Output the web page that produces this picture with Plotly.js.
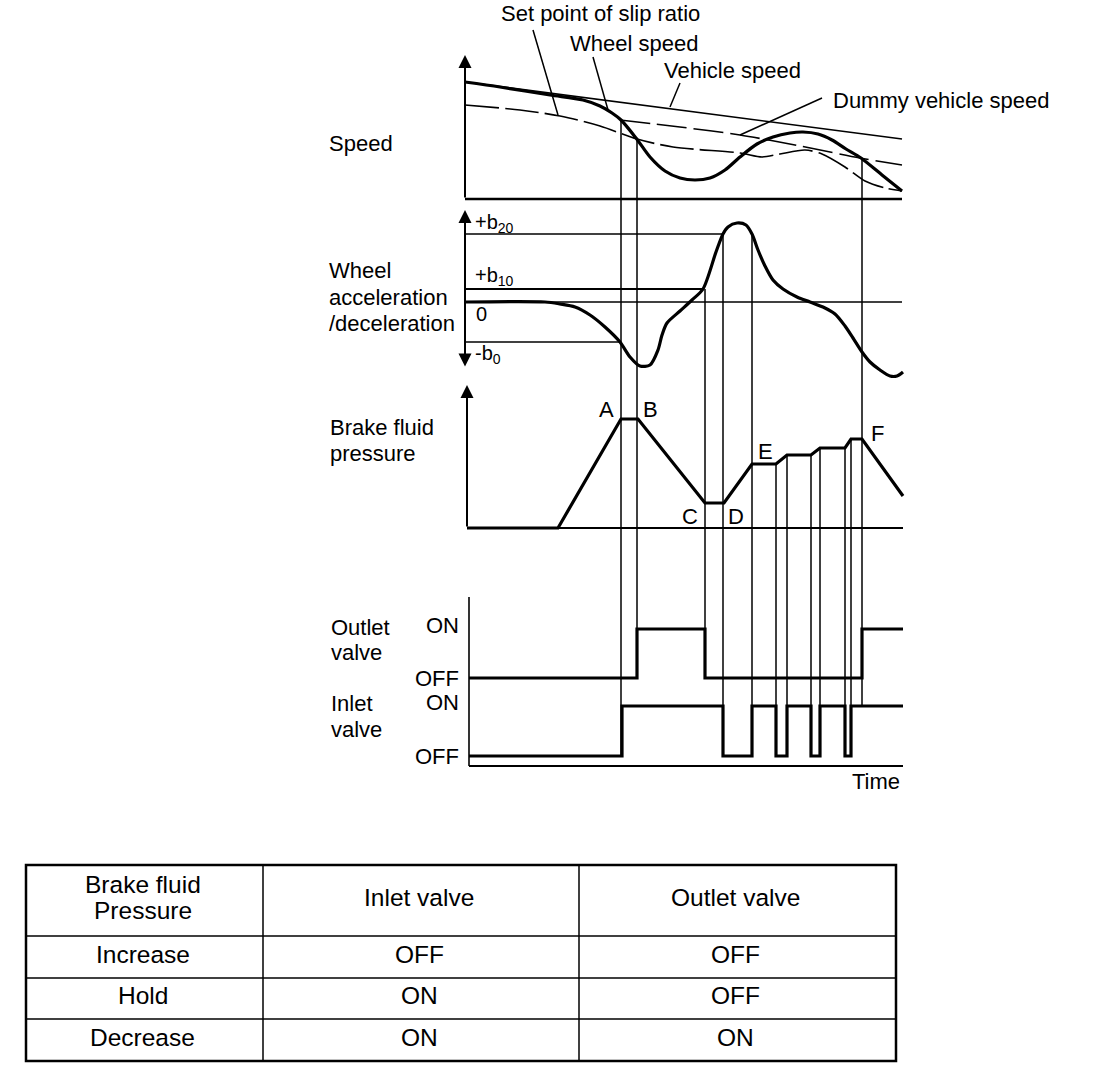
<!DOCTYPE html>
<html><head><meta charset="utf-8">
<script src="https://cdn.plot.ly/plotly-3.0.1.min.js"></script>
<style>html,body{margin:0;padding:0;background:#fff}#chart{width:1120px;height:1088px}</style>
</head><body><div id="chart"></div>
<script>
// ---------- DATA (time in arbitrary units, values in arbitrary panel units) ----------
// Speed panel
const vehicleT = [0, 215, 437];
const vehicleV = [117, 89, 60];
const wheelT = [0, 35, 85, 118, 135, 147, 156, 171, 185, 200, 215, 230, 245, 260, 275, 292, 308, 325, 338, 353, 367, 381, 396, 417, 437];
const wheelV = [117, 112, 104, 99, 93, 86, 79, 61, 42, 28, 21, 19, 21, 29, 42, 55, 62, 66, 67, 65, 59, 50, 41, 24, 8];
const setPointT = [0, 55, 95, 135, 172, 208, 275, 297, 315, 340, 357, 380, 400, 420, 437];
const setPointV = [94, 89, 83, 73, 60, 52, 46, 42, 45, 49, 45, 32, 18, 11, 8];
const dummyT = [155, 215, 275, 335, 395, 437];
const dummyV = [79, 72, 64, 53, 41, 34];
// Wheel acceleration / deceleration panel
const accelT = [0, 80, 95, 110, 125, 140, 155, 165, 175, 185, 193, 197, 202, 215, 227, 238, 251, 258, 263, 272, 281, 287, 293, 300, 308, 318, 332, 345, 358, 370, 380, 388, 397, 405, 415, 425, 432, 438];
const accelV = [0, 0, -2, -5, -13, -25, -40, -55, -64, -63, -48, -33, -21, -9, 2, 13, 50, 68, 75, 79, 77, 68, 52, 36, 22, 13, 5, 0, -5, -12, -24, -36, -50, -60, -68, -74, -74, -70];
const thresholdNames = ['+b<sub>20</sub>', '+b<sub>10</sub>', '-b<sub>0</sub>'];
const thresholdV = [68, 13, -40];
const thresholdEndT = [258, 238, 155];
// Brake fluid pressure panel
const pressureT = [2, 93, 156, 173, 240, 259, 287, 311, 322, 346, 355, 380, 386, 397, 438];
const pressureV = [0, 0, 109, 109, 25, 25, 64, 64, 73, 73, 80, 80, 89, 89, 32];
const pointLabels = ['A', 'B', 'C', 'D', 'E', 'F'];
// Valves (0 = OFF, 1 = ON)
const outletT = [4, 172, 240, 397, 438];
const outletV = [0, 1, 0, 1, 1];
const inletT = [4, 157, 258, 287, 311, 322, 346, 355, 380, 386, 438];
const inletV = [0, 1, 0, 1, 0, 1, 0, 1, 0, 1, 1];
// Event connector lines: time, top (axis, value), bottom (axis, value)
const connT      = [156, 172, 240, 258, 287, 311, 322, 346, 355, 380, 386, 397];
const connTopAx  = ['y', 'y', 'y2', 'y2', 'y2', 'y3', 'y3', 'y3', 'y3', 'y3', 'y3', 'y'];
const connTopV   = [79, 61, 13, 68, 68, 64, 73, 73, 80, 80, 89, 41];
const connBotAx  = ['y5', 'y4', 'y4', 'y5', 'y5', 'y5', 'y5', 'y5', 'y5', 'y5', 'y5', 'y5'];
const connBotV   = [0, 0, 0, 0, 0, 0, 0, 0, 0, 0, 0, 1];
// Table
const tableHeader = ['Brake fluid<br>Pressure', 'Inlet valve', 'Outlet valve'];
const tableRows = ['Increase', 'Hold', 'Decrease'];
const tableInlet = ['OFF', 'ON', 'ON'];
const tableOutlet = ['OFF', 'OFF', 'ON'];

// ---------- LAYOUT ----------
const W = 1120, H = 1088;
const FONT = 'Liberation Sans, Arial, Helvetica, sans-serif';
const ranges = {
  y:  [-889, 199],
  y2: [-786, 302],
  y3: [-560, 528],
  y4: [-8.367, 13.837],
  y5: [-6.64, 15.12]
};
const toPaper = (ax, v) => (v - ranges[ax][0]) / (ranges[ax][1] - ranges[ax][0]);
const px = x => x / W, py = y => 1 - y / H;

const traces = [];
const line = (x, y, ax, width, dash) => traces.push({
  type: 'scatter', mode: 'lines', x: x, y: y, yaxis: ax, xaxis: 'x',
  line: {color: '#000', width: width, dash: dash || 'solid'}, hoverinfo: 'skip'
});
const spline = (x, y, ax, width, dash) => traces.push({
  type: 'scatter', mode: 'lines', x: x, y: y, yaxis: ax, xaxis: 'x',
  line: {color: '#000', width: width, dash: dash || 'solid', shape: 'spline', smoothing: 0.8}, hoverinfo: 'skip'
});

// speed panel
line([0, 437], [0, 0], 'y', 2.5);
line(vehicleT, vehicleV, 'y', 1.6);
spline(setPointT, setPointV, 'y', 1.6, '34px,6px');
spline(dummyT, dummyV, 'y', 1.6, '30px,7px');
spline(wheelT, wheelV, 'y', 3.2);
// leaders
const leaderT = [[68, 93], [128, 143], [215, 205], [357, 275]];
const leaderV = [[169, 84], [142, 89], [116, 92], [101, 64]];
leaderT.forEach((t, i) => line(t, leaderV[i], 'y', 1.5));

// accel panel
line([0, 437], [0, 0], 'y2', 1.6);
thresholdV.forEach((v, i) => line([0, thresholdEndT[i]], [v, v], 'y2', i === 1 ? 2 : 1.5));
spline(accelT, accelV, 'y2', 3.2);

// pressure panel
line([2, 438], [0, 0], 'y3', 2);
line(pressureT, pressureV, 'y3', 3.2);

// valves
line([4, 4], [3.18, -0.2], 'y5', 1.6);
line([4, 438], [-0.2, -0.2], 'y5', 2);
traces.push({type: 'scatter', mode: 'lines', x: outletT, y: outletV, yaxis: 'y4', xaxis: 'x',
  line: {color: '#000', width: 3.2, shape: 'hv'}, hoverinfo: 'skip'});
traces.push({type: 'scatter', mode: 'lines', x: inletT, y: inletV, yaxis: 'y5', xaxis: 'x',
  line: {color: '#000', width: 3.2, shape: 'hv'}, hoverinfo: 'skip'});

// connector shapes
const shapes = connT.map((t, i) => ({
  type: 'line', xref: 'x', yref: 'paper', x0: t, x1: t,
  y0: toPaper(connTopAx[i], connTopV[i]), y1: toPaper(connBotAx[i], connBotV[i]),
  line: {color: '#000', width: 1.5}, layer: 'below'
}));

// annotations
const ann = [];
const txt = (text, x, y, xanchor, size) => ann.push({text: text, xref: 'paper', yref: 'paper',
  x: px(x), y: py(y), xanchor: xanchor || 'left', yanchor: 'middle', showarrow: false,
  font: {family: FONT, size: size || 22, color: '#000'}});
txt('Set point of slip ratio', 499, 14);
txt('Wheel speed', 568, 43);
txt('Vehicle speed', 662, 70);
txt('Dummy vehicle speed', 831, 101);
txt('Speed', 327, 143);
txt('Wheel', 327, 271);
txt('acceleration', 327, 297);
txt('/deceleration', 327, 323);
const thrLabelY = [224, 276, 354];
thresholdNames.forEach((n, i) => txt(n, 473, thrLabelY[i], 'left', 20));
txt('0', 474, 314, 'left', 20);
txt('Brake fluid', 328, 428);
txt('pressure', 328, 453);
const ptX = [606, 650, 690, 736, 765, 877], ptY = [409, 409, 517, 516, 451, 433];
pointLabels.forEach((l, i) => txt(l, ptX[i], ptY[i], 'center'));
txt('Outlet', 329, 627);
txt('valve', 329, 652);
txt('Inlet', 329, 703);
txt('valve', 329, 729);
txt('ON', 461, 625, 'right');
txt('OFF', 461, 678, 'right');
txt('ON', 461, 702, 'right');
txt('OFF', 461, 756, 'right');
txt('Time', 876, 781, 'center');

// table built from the arrays: grid + centred text
const colEdges = [26, 263, 579, 896];
const rowEdges = [865, 936, 978, 1019, 1061];
const tableCols = [[tableHeader[0]].concat(tableRows), [tableHeader[1]].concat(tableInlet), [tableHeader[2]].concat(tableOutlet)];
colEdges.slice(1, -1).forEach(x => shapes.push({type: 'line', xref: 'paper', yref: 'paper',
  x0: px(x), x1: px(x), y0: py(rowEdges[0]), y1: py(rowEdges[rowEdges.length - 1]), line: {color: '#000', width: 1.5}}));
rowEdges.slice(1, -1).forEach(y => shapes.push({type: 'line', xref: 'paper', yref: 'paper',
  x0: px(colEdges[0]), x1: px(colEdges[colEdges.length - 1]), y0: py(y), y1: py(y), line: {color: '#000', width: 1.5}}));
shapes.push({type: 'rect', xref: 'paper', yref: 'paper', x0: px(26), x1: px(896), y0: py(1061), y1: py(865),
  line: {color: '#000', width: 2.5}});
tableCols.forEach((col, c) => {
  const cx = (colEdges[c] + colEdges[c + 1]) / 2 - 2;
  col.forEach((val, r) => {
    const cy = (rowEdges[r] + rowEdges[r + 1]) / 2 - 3;
    const lines = val.split('<br>');
    lines.forEach((ln, k) => txt(ln, cx, cy + (k - (lines.length - 1) / 2) * 26, 'center', 24.5));
  });
});

// axis arrows
const arrow = (ax, x, y, ay, side) => ann.push({text: '', xref: 'x', yref: ax, axref: 'x', ayref: ax,
  x: x, y: y, ax: x, ay: ay, showarrow: true, arrowhead: 2, arrowsize: 1.3, arrowwidth: 2,
  arrowcolor: '#000', arrowside: side || 'end', standoff: 0, startstandoff: 0});
arrow('y', 0, 144, 0);
arrow('y2', 0, 92, -66, 'end+start');
arrow('y3', 2, 143, 0);

const hidden = {visible: false, fixedrange: true};
const layout = {
  width: W, height: H, margin: {l: 0, r: 0, t: 0, b: 0},
  paper_bgcolor: '#fff', plot_bgcolor: '#fff', showlegend: false,
  font: {family: FONT, color: '#000'},
  xaxis: Object.assign({domain: [0, 1], range: [-465, 655]}, hidden),
  yaxis: Object.assign({domain: [0, 1], range: ranges.y}, hidden),
  yaxis2: Object.assign({overlaying: 'y', range: ranges.y2}, hidden),
  yaxis3: Object.assign({overlaying: 'y', range: ranges.y3}, hidden),
  yaxis4: Object.assign({overlaying: 'y', range: ranges.y4}, hidden),
  yaxis5: Object.assign({overlaying: 'y', range: ranges.y5}, hidden),
  shapes: shapes, annotations: ann
};
Plotly.newPlot('chart', traces, layout, {displayModeBar: false, staticPlot: true});
</script></body></html>
